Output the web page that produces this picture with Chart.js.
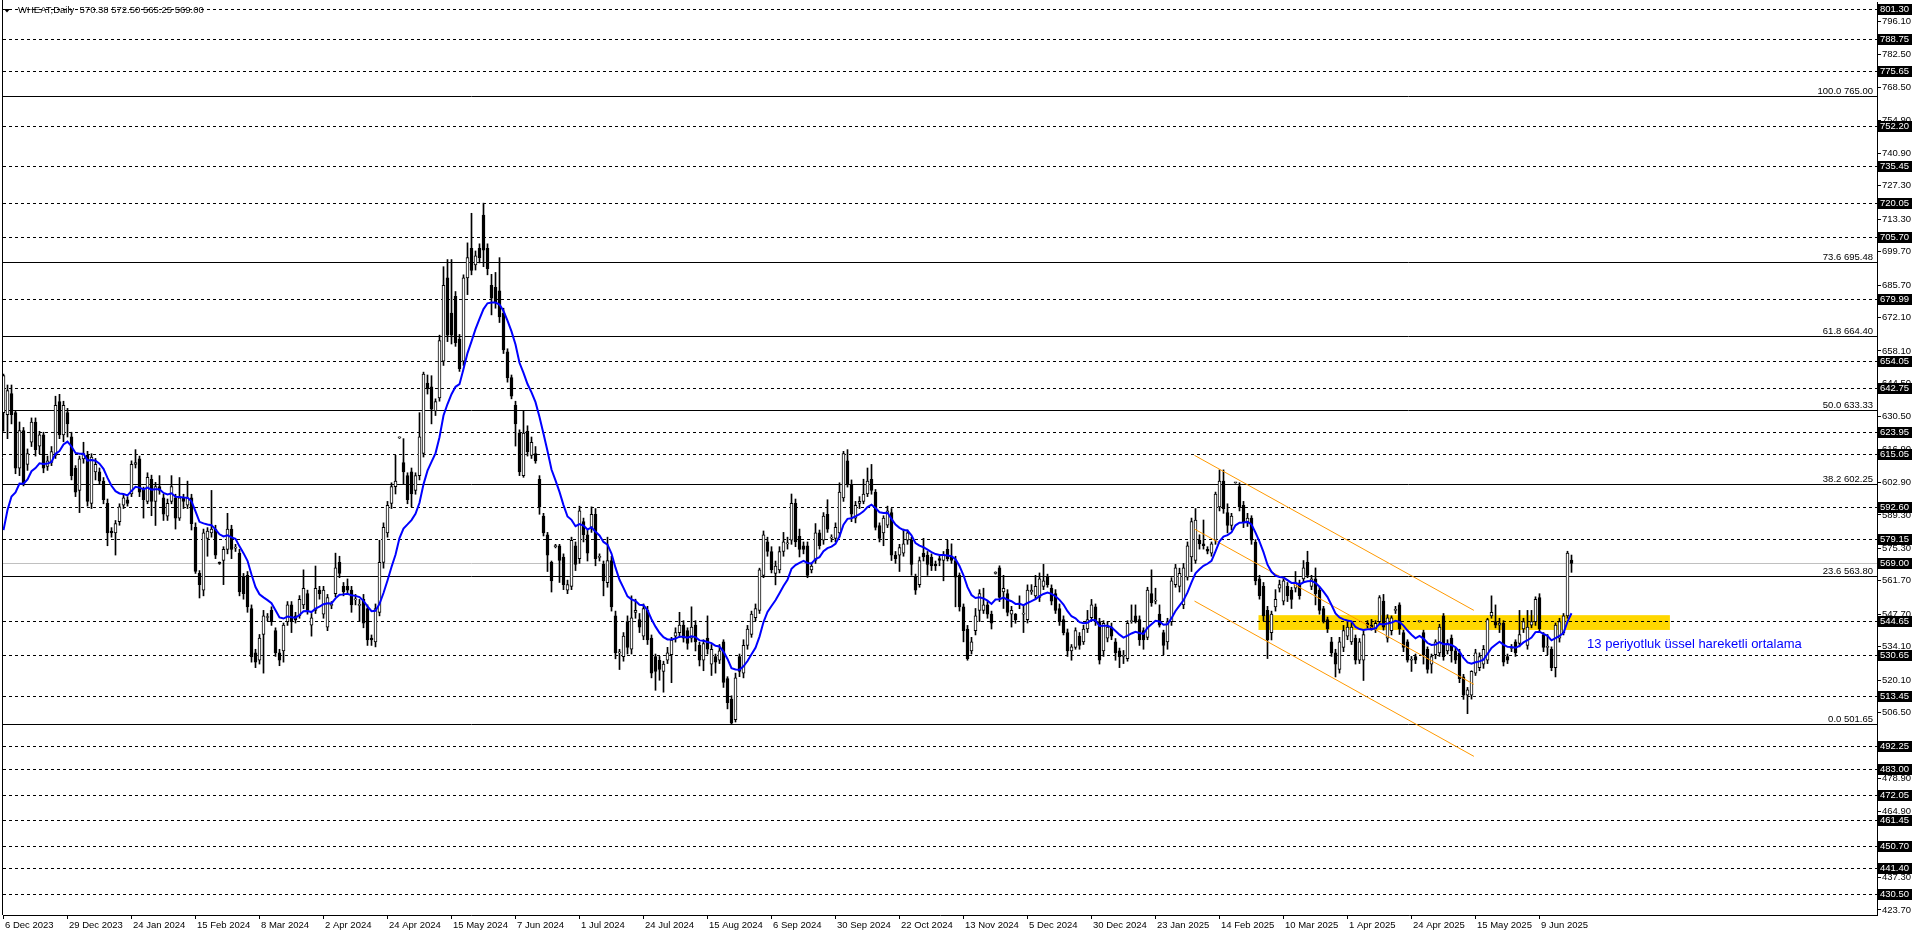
<!DOCTYPE html>
<html>
<head>
<meta charset="utf-8">
<title>WHEAT Daily</title>
<script src="https://cdn.jsdelivr.net/npm/chart.js@4.4.1/dist/chart.umd.min.js"></script>
<style>
html, body { margin: 0; padding: 0; background: #fff; overflow: hidden; }
canvas { display: block; }
</style>
</head>
<body>
<canvas id="chart" width="1916" height="936"></canvas>
<script>
// daily bars, 6 Dec 2023 .. 20 Jun 2025 (one value per bar)
var opens = [
 632.2,631.4,640.2,632.2,608.9,624.7,610.5,619.8,628.3,618.2,
 622.9,609.7,611.3,614.3,636.8,622.9,632.2,622.1,608.9,599.6,
 612.8,614.3,594.2,607.4,607.4,603.5,594.2,582.6,581.8,586.5,
 593.4,595.7,598.1,610.5,612.8,599.6,595.0,604.3,595.0,601.2,
 596.5,588.8,595.0,596.5,588.0,596.5,593.4,596.5,584.1,564.8,
 557.8,579.5,581.8,583.4,569.2,570.2,574.9,583.4,575.4,573.3,
 563.2,564.0,550.1,531.5,528.4,539.2,546.3,549.3,540.8,531.5,
 532.3,544.6,551.6,547.0,547.0,551.6,556.3,543.1,549.3,557.8,
 547.7,542.3,551.4,556.3,569.4,559.4,559.4,557.8,553.7,551.4,
 553.9,550.1,537.7,536.1,548.5,569.4,581.8,594.2,601.2,621.6,
 611.3,605.8,607.4,599.6,605.8,615.1,644.6,643.0,632.9,638.4,
 653.8,688.7,674.0,681.0,663.1,653.8,688.7,701.1,694.1,701.1,
 715.0,701.1,685.6,684.8,683.3,674.0,657.7,646.9,635.3,623.6,
 605.8,624.4,614.3,615.1,604.3,588.8,581.0,569.4,576.0,576.4,
 571.7,557.8,559.4,576.4,571.0,586.5,581.0,584.1,589.6,571.5,
 568.6,560.9,570.2,547.0,531.5,529.9,544.6,533.0,548.5,545.4,
 538.5,549.3,537.7,529.9,528.4,523.7,528.4,530.7,538.5,540.0,
 543.1,540.8,537.7,543.1,534.6,528.4,537.7,526.8,529.9,528.4,
 536.1,520.7,512.1,503.5,529.9,523.0,534.6,539.2,546.2,549.3,
 564.0,578.0,574.0,564.8,566.3,574.0,577.2,578.7,594.2,580.3,
 576.4,576.4,566.3,570.2,581.8,578.7,589.6,579.6,579.5,581.8,
 596.5,612.0,602.0,588.0,594.2,595.0,598.1,604.3,598.9,584.9,
 581.8,585.0,590.3,572.5,572.5,573.3,578.7,578.7,563.2,560.1,
 573.3,572.5,571.7,568.6,571.0,570.2,574.9,571.7,570.2,564.0,
 550.8,541.5,532.3,540.8,549.3,549.3,551.6,547.7,564.8,567.1,
 557.0,556.3,547.7,547.7,551.6,547.7,545.4,557.0,555.4,554.7,
 559.4,563.2,558.6,556.3,550.1,545.4,540.0,532.3,533.8,538.5,
 536.1,541.5,546.2,550.8,544.6,532.3,537.7,542.3,536.1,532.3,
 530.0,529.1,544.6,547.0,545.4,540.8,538.0,556.3,553.2,547.7,
 540.0,536.1,544.6,560.1,559.4,551.6,563.2,571.7,570.2,578.7,
 577.2,574.9,573.3,578.7,592.7,603.5,590.3,584.9,602.8,601.2,
 593.4,586.5,588.0,577.9,562.5,559.4,549.3,540.0,550.8,558.6,
 553.2,559.4,557.8,558.6,560.9,562.5,569.4,559.4,562.5,557.8,
 550.1,545.4,536.1,531.5,524.5,533.8,538.5,536.1,537.7,528.4,
 528.4,543.9,543.1,541.5,544.6,553.2,537.7,540.8,549.3,551.6,
 540.0,536.1,528.4,529.9,544.6,540.0,533.0,526.8,530.7,531.5,
 547.0,532.3,537.7,532.3,531.5,521.4,513.7,513.7,523.0,525.3,
 526.8,528.4,547.0,544.6,543.1,543.9,529.9,533.4,536.1,535.4,
 541.5,534.6,543.1,544.6,554.7,539.2,533.8,533.0,525.3,537.7,
 540.0,547.0,570.38
];
var highs = [
 648.4,643.8,643.8,633.0,628.3,626.0,617.0,630.0,630.0,624.4,
 624.0,614.0,618.0,639.1,639.9,637.0,634.0,624.0,610.0,614.0,
 619.8,616.0,615.0,613.0,609.0,605.0,596.0,584.0,587.0,594.0,
 598.0,597.0,612.0,616.7,614.0,601.0,607.0,606.0,603.0,605.8,
 598.0,596.0,605.8,598.0,605.0,598.0,603.5,598.0,586.0,566.0,
 583.4,584.0,599.6,585.0,569.6,576.0,590.0,585.0,577.0,574.9,
 564.8,565.6,551.6,533.0,539.2,549.3,548.0,550.8,542.0,533.0,
 544.0,553.0,553.0,548.5,555.5,566.3,557.8,548.0,567.9,559.4,
 559.4,556.0,553.0,573.3,572.0,561.0,562.5,559.4,556.0,553.9,
 556.0,551.6,539.0,552.0,578.7,586.0,595.0,602.8,614.3,622.0,
 621.3,607.0,609.0,607.0,632.2,649.2,648.0,647.7,638.0,664.7,
 693.4,696.4,696.4,683.0,665.0,690.0,703.4,715.8,700.0,703.0,
 720.05,703.0,690.2,691.0,697.2,676.0,659.0,648.0,637.0,625.0,
 632.9,626.7,622.0,618.0,605.8,590.0,582.0,570.0,577.0,577.0,
 573.0,562.0,580.0,578.0,593.0,588.0,583.0,592.7,592.0,573.0,
 570.0,580.0,572.0,549.0,533.0,540.0,547.0,555.4,554.0,548.0,
 552.0,551.0,539.0,531.0,530.0,528.0,533.8,538.0,542.0,548.5,
 545.0,542.0,550.8,545.0,536.0,537.0,547.0,535.0,531.0,535.0,
 537.0,521.5,513.5,523.0,531.0,537.0,543.0,549.0,552.0,567.0,
 582.6,580.0,576.0,570.0,576.0,582.0,580.0,598.1,596.0,583.4,
 578.0,578.0,569.0,585.7,583.0,590.3,595.7,581.0,586.0,602.8,
 616.0,616.7,604.0,595.0,597.0,604.3,609.0,610.5,600.0,586.0,
 589.0,593.0,592.0,574.0,577.0,583.4,583.0,580.0,564.5,571.7,
 579.5,574.0,573.0,570.0,572.0,574.0,578.7,577.2,572.0,565.0,
 552.0,543.0,538.0,550.1,558.0,558.6,553.0,549.0,565.5,568.0,
 564.0,558.0,551.0,548.0,555.4,551.6,560.0,560.1,564.0,565.0,
 568.6,564.5,560.0,558.0,552.0,547.0,541.5,535.0,542.0,540.0,
 543.1,549.3,553.9,552.0,546.0,545.0,544.6,544.0,537.5,533.5,
 532.5,545.0,551.6,551.6,547.0,542.0,559.0,566.3,558.6,551.6,
 541.0,546.0,563.0,568.6,567.0,569.0,578.0,588.0,592.0,581.0,
 587.2,576.0,578.0,598.9,608.2,608.2,594.0,590.0,603.0,602.8,
 595.0,590.0,589.0,579.0,564.0,561.0,551.0,549.0,558.0,562.0,
 563.0,561.0,559.0,565.6,562.0,570.2,574.1,564.0,567.1,559.0,
 551.0,546.5,538.0,533.0,538.0,543.0,544.6,544.0,539.0,537.5,
 541.0,545.0,545.5,545.0,555.5,556.0,547.5,547.0,551.0,552.5,
 541.0,537.0,530.0,531.0,544.8,541.0,534.0,531.0,537.0,543.5,
 548.0,537.0,539.0,533.5,533.0,522.5,517.0,524.0,533.0,531.5,
 534.6,546.0,555.4,551.6,546.0,545.0,531.0,535.0,537.0,549.3,
 546.0,549.3,549.3,555.0,556.3,540.0,539.2,534.0,544.0,546.0,
 548.0,574.1,572.50
];
var lows = [
 624.4,621.3,627.5,606.6,605.8,601.5,608.0,618.0,614.0,615.0,
 607.0,608.0,610.0,613.0,621.3,620.0,622.0,604.0,597.0,590.3,
 611.0,593.0,592.0,604.0,602.0,594.0,576.4,580.0,572.5,585.0,
 592.0,593.0,597.0,609.0,597.0,588.0,594.0,589.0,584.9,598.0,
 587.0,587.0,594.0,583.4,587.0,592.0,592.0,583.0,564.8,554.5,
 555.4,572.0,580.0,571.0,568.6,560.1,573.0,571.0,574.0,555.4,
 554.0,548.5,527.6,525.3,526.8,523.0,545.0,543.0,530.0,526.1,
 527.6,543.0,540.0,544.0,546.0,550.0,547.7,538.5,548.0,554.0,
 546.0,540.8,550.0,555.0,563.0,555.4,556.0,548.5,551.6,544.6,
 542.0,534.6,534.6,534.0,547.0,567.0,580.0,592.0,598.1,621.4,
 602.0,594.0,592.7,598.0,604.0,613.6,640.0,627.5,631.0,637.0,
 652.0,662.0,661.0,660.0,649.5,652.0,681.7,690.0,692.0,695.0,
 693.4,690.0,673.2,676.0,670.0,657.0,645.0,638.0,618.2,605.8,
 605.1,614.0,613.0,611.0,589.6,580.5,565.6,557.0,575.5,561.0,
 558.0,556.3,558.0,566.0,569.0,578.0,570.0,582.0,568.0,570.0,
 555.4,559.0,549.0,529.0,524.5,528.0,531.0,531.0,546.0,540.0,
 537.0,535.0,521.0,515.8,520.0,515.0,527.0,519.0,536.0,538.0,
 536.0,533.0,536.0,532.3,526.0,524.0,531.0,522.0,523.0,527.0,
 517.0,508.0,501.65,502.5,521.5,521.0,533.0,538.0,545.0,548.0,
 563.0,572.0,565.0,560.0,565.0,572.0,575.0,577.0,576.0,571.7,
 573.0,563.0,565.0,569.0,575.0,577.0,582.0,578.0,578.0,580.0,
 595.0,601.0,586.5,586.0,592.0,594.0,597.0,598.0,583.0,578.0,
 576.4,584.0,570.2,569.0,565.6,572.0,577.0,564.0,556.0,559.0,
 570.0,564.0,566.0,566.0,568.0,561.7,570.0,569.0,550.8,549.0,
 536.1,528.4,531.0,539.0,544.6,548.0,546.0,541.5,564.5,553.0,
 550.1,547.0,542.3,543.9,550.0,540.0,544.0,556.0,554.0,553.0,
 558.0,559.0,551.6,548.0,543.0,539.0,530.0,528.4,533.0,533.0,
 535.0,540.0,545.0,543.0,526.8,530.0,536.1,537.0,528.4,525.3,
 527.0,528.0,543.9,544.0,534.6,533.0,537.0,551.0,552.0,542.3,
 530.7,533.0,543.0,559.0,557.0,550.0,562.0,565.6,569.0,575.0,
 575.0,573.0,572.0,577.0,591.0,590.0,581.8,583.0,602.6,591.0,
 584.0,584.5,577.0,560.0,554.0,545.0,529.1,536.9,549.0,557.0,
 551.6,553.0,550.1,557.0,554.0,561.0,563.0,558.0,551.6,547.7,
 544.0,540.0,530.0,521.4,523.0,532.0,537.0,535.0,526.8,527.0,
 519.9,542.0,541.0,540.0,543.9,541.0,536.0,539.0,548.0,539.2,
 532.0,527.6,523.7,527.0,544.4,526.8,523.0,523.0,529.0,530.0,
 528.4,531.0,527.6,527.0,519.0,512.0,506.0,512.1,522.0,524.0,
 525.0,527.0,546.0,542.0,540.0,526.0,527.0,532.0,530.0,534.0,
 540.0,533.0,542.0,543.0,540.0,532.0,530.7,524.0,521.4,536.0,
 539.0,546.0,565.25
];
var closes = [
 647.7,641.5,631.4,608.9,624.7,602.0,615.1,628.3,616.7,622.9,
 608.9,612.0,615.9,635.3,622.9,635.3,627.5,605.8,598.9,612.8,
 615.1,595.0,613.6,610.5,603.5,595.7,581.8,581.8,585.7,592.7,
 596.5,594.2,610.5,611.3,598.9,595.7,605.1,595.0,601.2,599.6,
 589.6,594.2,601.2,588.0,596.5,595.0,596.5,585.7,565.6,560.1,
 581.8,582.6,583.4,572.5,569.0,574.9,583.4,574.9,575.8,557.0,
 556.3,550.8,529.9,527.6,537.7,547.0,546.6,544.6,531.5,528.4,
 543.1,551.6,544.6,545.4,553.9,558.6,549.3,546.2,558.6,556.3,
 557.8,554.7,551.8,567.1,564.8,557.0,557.8,551.6,554.1,551.8,
 543.9,536.9,536.9,550.1,569.4,584.1,593.4,601.2,603.5,621.8,
 607.4,595.7,598.1,605.8,622.1,648.4,642.2,633.7,636.8,662.4,
 685.6,664.7,664.7,661.6,650.7,688.7,697.2,691.8,698.0,697.2,
 700.3,692.6,680.2,678.6,672.4,658.5,646.9,639.1,627.5,607.4,
 623.6,615.9,619.8,612.0,592.7,581.8,572.5,561.7,576.5,570.2,
 560.1,560.1,578.7,568.6,591.0,581.0,573.3,589.6,571.0,571.5,
 561.7,570.2,550.8,531.5,531.7,538.5,533.8,546.2,549.3,542.3,
 550.1,536.9,523.0,523.7,524.5,526.8,531.5,536.9,540.0,543.1,
 537.7,535.4,542.3,536.1,528.4,535.4,533.0,533.0,527.6,532.3,
 519.1,510.6,502.0,521.0,523.7,534.6,541.5,547.7,550.1,566.3,
 581.0,574.0,566.3,567.9,574.0,578.0,577.6,594.2,578.0,574.9,
 574.9,564.0,567.9,581.8,576.4,588.8,583.4,579.9,584.1,598.9,
 615.1,602.0,589.6,593.4,595.0,598.1,603.5,599.6,584.1,579.5,
 588.0,591.0,572.5,571.0,575.6,577.2,581.8,568.6,557.8,570.2,
 571.7,568.6,567.9,567.9,570.2,572.5,571.0,570.2,563.2,550.8,
 540.8,529.1,536.1,547.0,556.3,551.6,547.7,543.9,565.0,554.7,
 558.6,548.5,549.3,545.4,552.4,548.0,557.8,557.8,559.4,562.5,
 561.7,560.1,553.2,549.3,544.6,540.0,532.3,534.0,540.8,534.6,
 541.5,545.4,551.6,544.6,528.4,543.9,542.3,538.5,531.5,529.9,
 530.5,543.9,544.8,544.6,536.9,536.9,557.8,552.4,553.5,543.1,
 534.6,544.6,561.7,567.1,564.8,567.1,576.4,586.5,587.2,577.2,
 576.4,574.1,577.2,598.1,603.5,591.9,584.9,588.8,602.8,592.7,
 586.5,588.0,578.7,561.7,555.5,547.0,536.9,547.7,553.9,560.1,
 561.7,555.5,553.9,560.9,555.5,567.1,564.0,562.5,556.3,549.3,
 544.6,541.5,531.5,526.8,536.1,540.8,542.3,542.3,528.4,536.1,
 539.2,543.1,541.5,543.9,554.7,542.3,546.2,546.2,549.6,541.5,
 533.8,528.4,528.7,528.4,544.6,530.7,524.5,529.9,536.1,542.3,
 529.9,535.4,532.3,528.4,520.7,513.7,516.0,523.7,531.5,529.9,
 533.0,545.4,548.5,543.1,544.0,527.6,528.4,533.6,531.5,539.2,
 544.6,542.3,544.6,553.9,541.5,533.8,534.0,525.3,543.1,544.6,
 547.0,573.3,569.00
];

var emaPeriod = 13;
var emaFirst = 583.0;      // EMA value on the first visible bar

var xLabelBars = [0, 16, 32, 48, 64, 80, 96, 112, 128, 144, 160, 176, 192, 208, 224, 240, 256, 272, 288, 304, 320, 336, 352, 368, 384];
var xLabels = ['6 Dec 2023', '29 Dec 2023', '24 Jan 2024', '15 Feb 2024', '8 Mar 2024', '2 Apr 2024', '24 Apr 2024',
  '15 May 2024', '7 Jun 2024', '1 Jul 2024', '24 Jul 2024', '15 Aug 2024', '6 Sep 2024', '30 Sep 2024', '22 Oct 2024',
  '13 Nov 2024', '5 Dec 2024', '30 Dec 2024', '23 Jan 2025', '14 Feb 2025', '10 Mar 2025', '1 Apr 2025', '24 Apr 2025',
  '15 May 2025', '9 Jun 2025'];

var yTicks = [796.10, 782.50, 768.50, 754.90, 740.90, 727.30, 713.30, 699.70, 685.70, 672.10, 658.10, 644.50, 630.50,
  616.90, 602.90, 589.30, 575.30, 561.70, 547.70, 534.10, 520.10, 506.50, 492.90, 478.90, 464.90, 451.30, 437.30, 423.70];

// dashed horizontal levels
var levels = [801.30, 788.75, 775.65, 752.20, 735.45, 720.05, 705.70, 679.99, 654.05, 642.75, 623.95, 615.05,
  592.60, 579.15, 544.65, 530.65, 513.45, 492.25, 483.00, 472.05, 461.45, 450.70, 441.40, 430.50];
var lastPrice = 569.00;

var fiboPct = ['100.0', '73.6', '61.8', '50.0', '38.2', '23.6', '0.0'];
var fiboPrices = [765.00, 695.48, 664.40, 633.33, 602.25, 563.80, 501.65];

// descending channel (bar index / price at both ends)
var channelBars = [297.75, 367.6];
var channelUpper = [614.3, 549.3];
var channelMiddle = [583.4, 518.3];
var channelLower = [553.2, 488.1];

// yellow zone
var zoneBars = [313.75, 416.6];
var zoneLow = 541.1, zoneHigh = 547.3;

var emaNote = '13 periyotluk üssel hareketli ortalama';
var emaNoteBar = 395.9, emaNotePrice = 535.2;
var header = 'WHEAT,Daily  570.38 572.50 565.25 569.00';

var FONT = "'Liberation Sans', Arial, sans-serif";

// ema
var ema = [];
var alpha = 2 / (emaPeriod + 1);
for (var i = 0; i < closes.length; i++) {
  if (i === 0) ema.push(emaFirst);
  else ema.push(ema[i - 1] + alpha * (closes[i] - ema[i - 1]));
}

var wicks = [], bodies = [], bodyColors = [], emaPts = [];
for (var j = 0; j < closes.length; j++) {
  wicks.push({ x: j, y: [lows[j], highs[j]] });
  bodies.push({ x: j, y: [Math.min(opens[j], closes[j]), Math.max(opens[j], closes[j])] });
  bodyColors.push(closes[j] >= opens[j] ? '#ffffff' : '#000000');
  emaPts.push({ x: j, y: ema[j] });
}

function seg(ys) {
  return [{ x: channelBars[0], y: ys[0] }, { x: channelBars[1], y: ys[1] }];
}

var overlay = {
  id: 'overlay',
  beforeDatasetsDraw: function (chart) {
    var ctx = chart.ctx, a = chart.chartArea, xs = chart.scales.x, ys = chart.scales.y;
    ctx.save();
    ctx.beginPath();
    ctx.rect(a.left, a.top, a.right - a.left, a.bottom - a.top);
    ctx.clip();

    var zx1 = xs.getPixelForValue(zoneBars[0]), zx2 = xs.getPixelForValue(zoneBars[1]);
    var zy1 = ys.getPixelForValue(zoneHigh), zy2 = ys.getPixelForValue(zoneLow);
    ctx.fillStyle = '#ffd700';
    ctx.fillRect(zx1, zy1, zx2 - zx1, zy2 - zy1);

    ctx.lineWidth = 1;
    ctx.strokeStyle = '#000';
    ctx.setLineDash([3, 3]);
    levels.forEach(function (p) {
      var y = Math.round(ys.getPixelForValue(p)) + 0.5;
      ctx.beginPath(); ctx.moveTo(a.left, y); ctx.lineTo(a.right, y); ctx.stroke();
    });
    ctx.setLineDash([]);

    var gy = Math.round(ys.getPixelForValue(lastPrice)) + 0.5;
    ctx.strokeStyle = '#c0c0c0';
    ctx.beginPath(); ctx.moveTo(a.left, gy); ctx.lineTo(a.right, gy); ctx.stroke();

    ctx.strokeStyle = '#000';
    ctx.fillStyle = '#000';
    ctx.font = '9.5px ' + FONT;
    ctx.textAlign = 'right';
    ctx.textBaseline = 'alphabetic';
    fiboPrices.forEach(function (p, k) {
      var y = Math.round(ys.getPixelForValue(p)) + 0.5;
      ctx.beginPath(); ctx.moveTo(a.left, y); ctx.lineTo(a.right, y); ctx.stroke();
      ctx.fillText(fiboPct[k] + ' ' + p.toFixed(2), a.right - 4, y - 2.5);
    });
    ctx.restore();
  },
  afterDraw: function (chart) {
    var ctx = chart.ctx, a = chart.chartArea, xs = chart.scales.x, ys = chart.scales.y;
    ctx.save();

    // left frame
    ctx.strokeStyle = '#000';
    ctx.lineWidth = 1;
    ctx.beginPath(); ctx.moveTo(a.left - 0.5, 0); ctx.lineTo(a.left - 0.5, a.bottom); ctx.stroke();

    // price boxes
    ctx.font = '9.5px ' + FONT;
    ctx.textBaseline = 'middle';
    ctx.textAlign = 'left';
    levels.concat([lastPrice]).forEach(function (p) {
      var y = Math.round(ys.getPixelForValue(p));
      ctx.fillStyle = '#000';
      ctx.fillRect(a.right + 1, y - 5, 34, 11);
      ctx.fillStyle = '#fff';
      ctx.fillText(p.toFixed(2), a.right + 3, y + 0.5);
    });

    // date labels
    ctx.fillStyle = '#000';
    xLabels.forEach(function (t, k) {
      var x = xs.getPixelForValue(xLabelBars[k]);
      ctx.fillText(t, x + 1.5, a.bottom + 10.5);
    });

    // header
    ctx.beginPath();
    ctx.moveTo(4, 9); ctx.lineTo(10, 9); ctx.lineTo(7, 12.5); ctx.closePath();
    ctx.fill();
    ctx.fillText(header, 18, 10.5);

    // ema note
    ctx.fillStyle = '#0000ff';
    ctx.font = '13px ' + FONT;
    ctx.fillText(emaNote, xs.getPixelForValue(emaNoteBar), ys.getPixelForValue(emaNotePrice));
    ctx.restore();
  }
};

new Chart(document.getElementById('chart'), {
  data: {
    datasets: [
      { type: 'line', data: emaPts, borderColor: '#0000ff', borderWidth: 2, pointRadius: 0, tension: 0, order: 0 },
      { type: 'line', data: seg(channelUpper), borderColor: '#ff9900', borderWidth: 1, pointRadius: 0, order: 1 },
      { type: 'line', data: seg(channelMiddle), borderColor: '#ff9900', borderWidth: 1, pointRadius: 0, order: 1 },
      { type: 'line', data: seg(channelLower), borderColor: '#ff9900', borderWidth: 1, pointRadius: 0, order: 1 },
      { type: 'bar', data: bodies, backgroundColor: bodyColors, borderColor: '#000', borderWidth: 1,
        borderSkipped: false, barThickness: 3, grouped: false, minBarLength: 1, order: 5 },
      { type: 'bar', data: wicks, backgroundColor: '#000', borderWidth: 0, barThickness: 1, grouped: false, order: 6 }
    ]
  },
  options: {
    responsive: false,
    animation: false,
    devicePixelRatio: 1,
    layout: { padding: { left: 3, top: 2, right: 0, bottom: 0 } },
    plugins: { legend: { display: false }, tooltip: { enabled: false } },
    scales: {
      x: {
        type: 'linear', min: -0.125, max: 468.375, offset: false,
        afterBuildTicks: function (s) { s.ticks = xLabelBars.map(function (v) { return { value: v }; }); },
        afterFit: function (s) { s.height = 21; s.paddingLeft = 0; s.paddingRight = 0; },
        ticks: { display: false, autoSkip: false },
        grid: { drawOnChartArea: false, drawTicks: true, tickLength: 4, color: '#000', offset: false },
        border: { display: true, color: '#000' }
      },
      y: {
        type: 'linear', position: 'right', min: 421.58, max: 804.39,
        afterBuildTicks: function (s) { s.ticks = yTicks.map(function (v) { return { value: v }; }); },
        afterFit: function (s) { s.width = 39; s.paddingTop = 0; s.paddingBottom = 0; },
        ticks: {
          autoSkip: false, padding: 1, color: '#000',
          font: { family: FONT, size: 9.5 },
          callback: function (v) { return Number(v).toFixed(2); }
        },
        grid: { drawOnChartArea: false, drawTicks: true, tickLength: 4, color: '#000' },
        border: { display: true, color: '#000' }
      }
    }
  },
  plugins: [overlay]
});
</script>
</body>
</html>
